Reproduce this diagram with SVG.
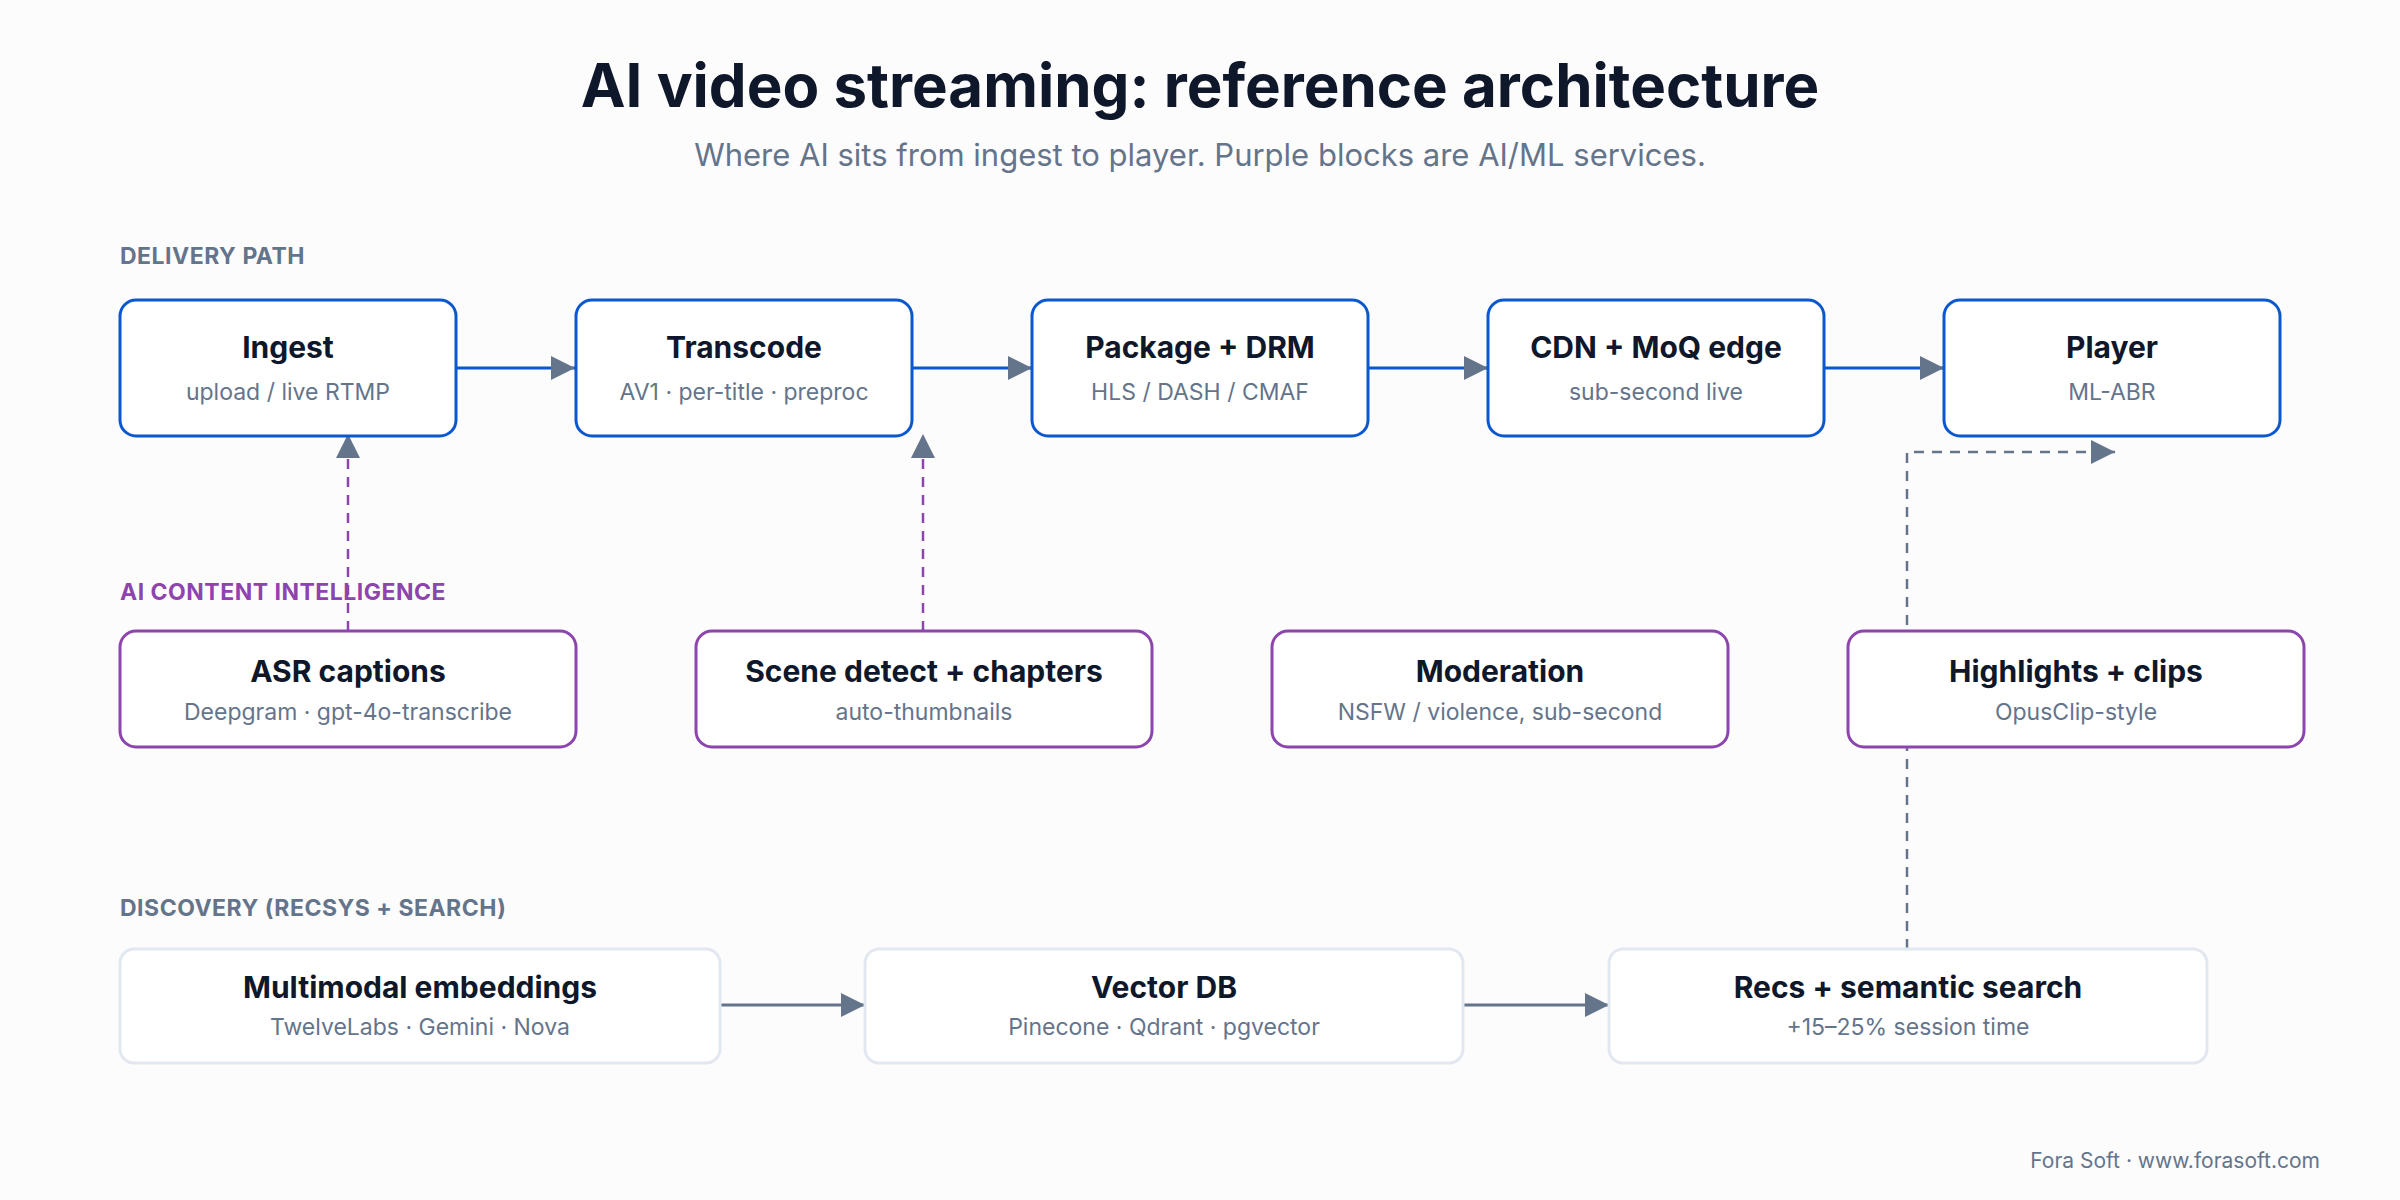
<svg xmlns="http://www.w3.org/2000/svg" width="2400" height="1200" viewBox="0 0 2400 1200">
<style>
text{font-family:Inter,"Liberation Sans",sans-serif}
.t{font-size:30px;font-weight:700;fill:#0f172a;text-anchor:middle}
.s{font-size:23px;fill:#64748b;text-anchor:middle}
.lab{font-size:23px;font-weight:700;letter-spacing:0.5px}
.d{fill:#ffffff;stroke:#0b57d0;stroke-width:3}
.a{fill:#ffffff;stroke:#8e44ad;stroke-width:3}
.r{fill:#ffffff;stroke:#e2e8f0;stroke-width:3}
</style>
<defs>
<marker id="ah" viewBox="0 0 10 10" refX="10" refY="5" markerWidth="8" markerHeight="8" markerUnits="userSpaceOnUse" orient="auto"><path d="M0,0L10,5L0,10z" fill="#64748b"/></marker>
<marker id="ahb" viewBox="0 0 10 10" refX="10" refY="5" markerWidth="24" markerHeight="24" markerUnits="userSpaceOnUse" orient="auto"><path d="M0,0L10,5L0,10z" fill="#64748b"/></marker>
</defs>
<rect width="2400" height="1200" fill="#fcfcfd"/>
<text x="1200" y="107" font-size="60" font-weight="700" fill="#0f172a" text-anchor="middle">AI video streaming: reference architecture</text>
<text x="1200" y="166" font-size="31" fill="#64748b" text-anchor="middle">Where AI sits from ingest to player. Purple blocks are AI/ML services.</text>
<text class="lab" x="120" y="264" fill="#64748b">DELIVERY PATH</text>
<text class="lab" x="120" y="600" fill="#8e44ad">AI CONTENT INTELLIGENCE</text>
<text class="lab" x="120" y="916" fill="#64748b">DISCOVERY (RECSYS + SEARCH)</text>
<g id="connectors" fill="none">
<g stroke="#0b57d0" stroke-width="3" marker-end="url(#ahb)">
<path d="M456,368H575"/><path d="M912,368H1032"/><path d="M1368,368H1488"/><path d="M1824,368H1944"/>
</g>
<g stroke="#8e44ad" stroke-width="2.5" stroke-dasharray="10 8" marker-end="url(#ahb)">
<path d="M348,631V434"/><path d="M923,631V434"/>
</g>
<path d="M1907,949V452H2115" stroke="#64748b" stroke-width="2.5" stroke-dasharray="10 8" marker-end="url(#ahb)"/>
<g stroke="#64748b" stroke-width="3" marker-end="url(#ahb)">
<path d="M720,1005H865"/><path d="M1463,1005H1609"/>
</g>
</g>
<g id="ingest"><rect class="d" x="120" y="300" width="336" height="136" rx="16"/><text class="t" x="288" y="358">Ingest</text><text class="s" x="288" y="400">upload / live RTMP</text></g>
<g id="transcode"><rect class="d" x="576" y="300" width="336" height="136" rx="16"/><text class="t" x="744" y="358">Transcode</text><text class="s" x="744" y="400">AV1 · per-title · preproc</text></g>
<g id="package"><rect class="d" x="1032" y="300" width="336" height="136" rx="16"/><text class="t" x="1200" y="358">Package + DRM</text><text class="s" x="1200" y="400">HLS / DASH / CMAF</text></g>
<g id="cdn"><rect class="d" x="1488" y="300" width="336" height="136" rx="16"/><text class="t" x="1656" y="358">CDN + MoQ edge</text><text class="s" x="1656" y="400">sub-second live</text></g>
<g id="player"><rect class="d" x="1944" y="300" width="336" height="136" rx="16"/><text class="t" x="2112" y="358">Player</text><text class="s" x="2112" y="400">ML-ABR</text></g>
<g id="asr"><rect class="a" x="120" y="631" width="456" height="116" rx="16"/><text class="t" x="348" y="682">ASR captions</text><text class="s" x="348" y="720">Deepgram · gpt-4o-transcribe</text></g>
<g id="scene"><rect class="a" x="696" y="631" width="456" height="116" rx="16"/><text class="t" x="924" y="682">Scene detect + chapters</text><text class="s" x="924" y="720">auto-thumbnails</text></g>
<g id="moderation"><rect class="a" x="1272" y="631" width="456" height="116" rx="16"/><text class="t" x="1500" y="682">Moderation</text><text class="s" x="1500" y="720">NSFW / violence, sub-second</text></g>
<g id="highlights"><rect class="a" x="1848" y="631" width="456" height="116" rx="16"/><text class="t" x="2076" y="682">Highlights + clips</text><text class="s" x="2076" y="720">OpusClip-style</text></g>
<g id="embeddings"><rect class="r" x="120" y="949" width="600" height="114" rx="14"/><text class="t" x="420" y="998">Multimodal embeddings</text><text class="s" x="420" y="1035">TwelveLabs · Gemini · Nova</text></g>
<g id="vectordb"><rect class="r" x="865" y="949" width="598" height="114" rx="14"/><text class="t" x="1164" y="998">Vector DB</text><text class="s" x="1164" y="1035">Pinecone · Qdrant · pgvector</text></g>
<g id="recs"><rect class="r" x="1609" y="949" width="598" height="114" rx="14"/><text class="t" x="1908" y="998">Recs + semantic search</text><text class="s" x="1908" y="1035">+15–25% session time</text></g>
<text x="2320" y="1168" font-size="21" fill="#64748b" text-anchor="end">Fora Soft · www.forasoft.com</text>
</svg>
